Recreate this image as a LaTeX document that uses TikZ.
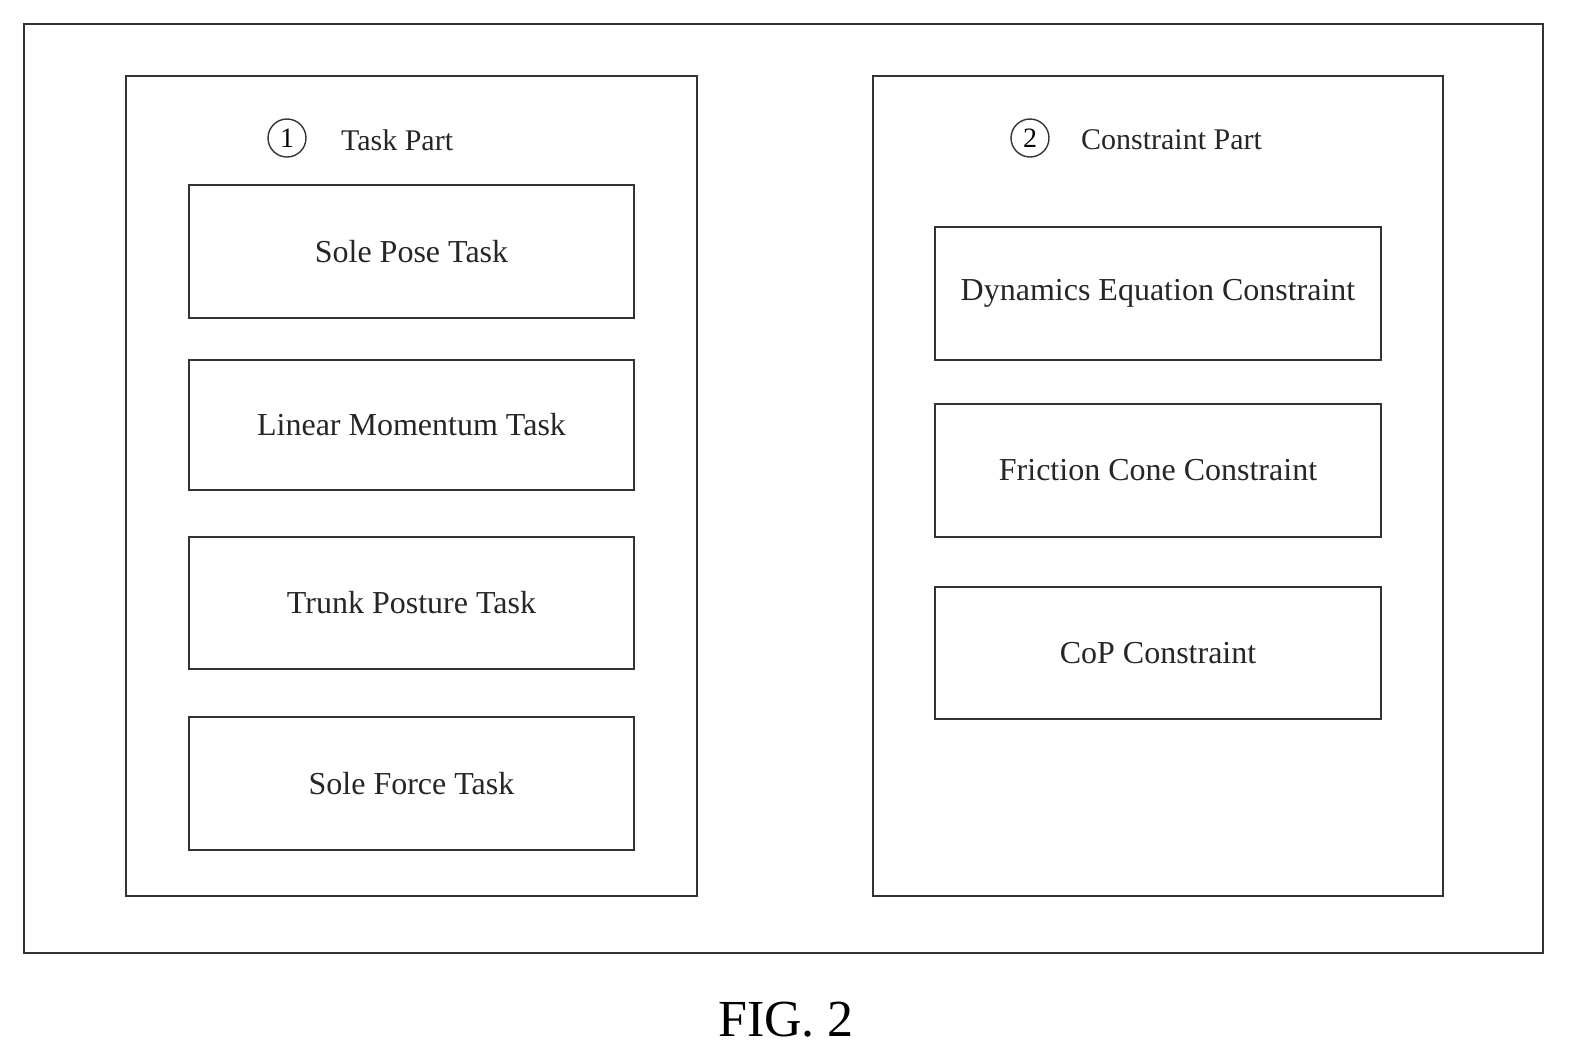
\documentclass[tikz,border=0pt]{standalone}
\usepackage{fontspec}
\setmainfont{Liberation Serif}
\begin{document}
\begin{tikzpicture}[x=0.5pt,y=-0.5pt,
  frame/.style={draw=black!80,line width=1pt},
  box/.style={draw=black!80,line width=1pt,font=\fontsize{16}{18}\selectfont,text=black!85},
  ttl/.style={font=\fontsize{15}{17}\selectfont,text=black!85,anchor=west},
  num/.style={draw=black!80,circle,line width=0.7pt,inner sep=1pt,minimum size=19pt,font=\fontsize{14}{16}\selectfont}]
\useasboundingbox (0,0) rectangle (1573,1062);
\draw[frame] (24,24) rectangle (1543,953);
\draw[frame] (126,76) rectangle (697,896);
\draw[frame] (873,76) rectangle (1443,896);
\node[num] (n1) at (287,138) {1};
\node[ttl] (t1) at (334,140) {Task Part};
\node[num] (n2) at (1030,138) {2};
\node[ttl] (t2) at (1074,140) {Constraint Part};
\foreach \n/\a/\b/\t in {a/185/318/Sole Pose Task,b/360/490/Linear Momentum Task,c/537/669/Trunk Posture Task,d/717/850/Sole Force Task}{
  \draw[box] (189,\a) rectangle (634,\b);
  \node[box,draw=none] (\n) at (411.5,{(\a+\b)/2}) {\t};}
\foreach \n/\a/\b/\t in {e/227/360/Dynamics Equation Constraint,f/404/537/Friction Cone Constraint,g/587/719/CoP Constraint}{
  \draw[box] (935,\a) rectangle (1381,\b);
  \node[box,draw=none] (\n) at (1158,{(\a+\b)/2}) {\t};}
\node[font=\fontsize{26}{28}\selectfont] (fig) at (786,1020) {FIG. 2};
\end{tikzpicture}
\end{document}
